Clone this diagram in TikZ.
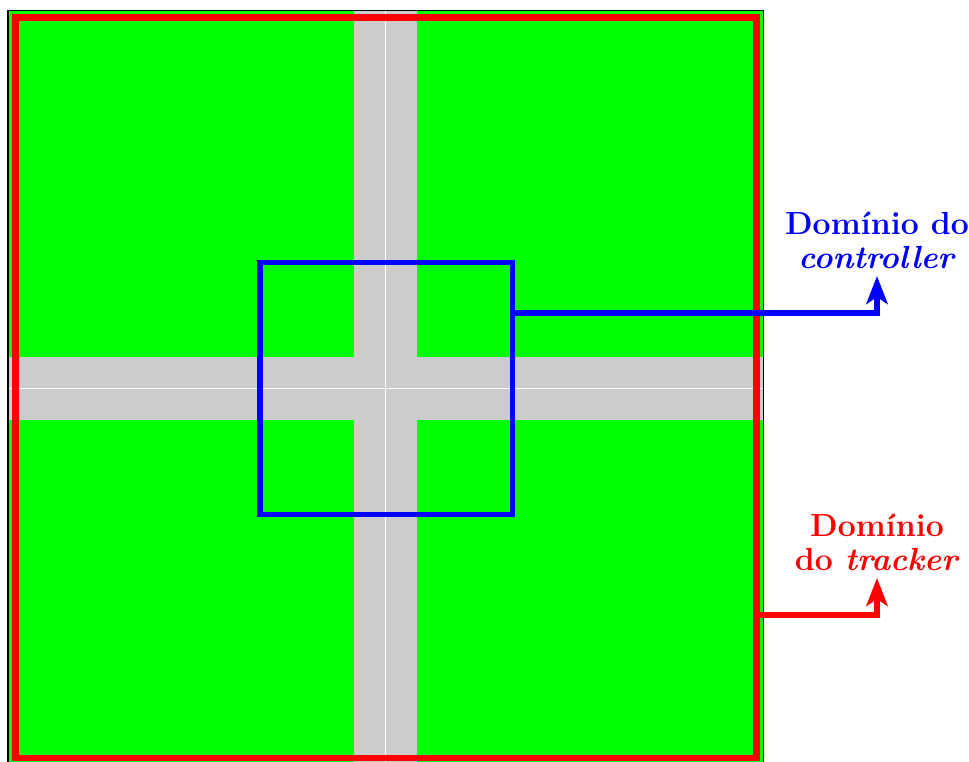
\documentclass[tikz,border=0pt]{standalone}
\usetikzlibrary{arrows.meta}
\begin{document}
\begin{tikzpicture}[x=0.375pt, y=-0.375pt, >={Stealth[length=10.5pt, width=8pt, inset=2.6pt]},
    rotulo/.style={align=center, inner ysep=2.4pt, anchor=south,
        font=\fontsize{12}{12.75}\selectfont\bfseries}]
    \useasboundingbox (0,0) rectangle (969,762);

    % 1. Quadrado verde (mapa)
    \fill[green] (8,10.5) rectangle (763.5,766);

    % 2. Ruas cinzentas e linhas centrais
    \fill[gray!40] (354,10.5) rectangle (417,766);
    \fill[gray!40] (8,357) rectangle (763.5,420);
    \draw[white, line width=0.5pt] (385.5,10.5) -- (385.5,766);
    \draw[white, line width=0.5pt] (8,388.5) -- (763.5,388.5);
    \draw[black, line width=0.4pt] (8,10.5) rectangle (763.5,766);

    % 3. Dominio do tracker (vermelho)
    \draw[red, line width=2.6pt] (15.5,17.5) rectangle (756.5,758);
    \coordinate (saidaT) at (756.5,615);
    \node[rotulo, red] (rotT) at (877,578) {Domínio\\do \textit{tracker}};
    \draw[->, red, line width=2.4pt] (saidaT) -| (rotT.south);

    % 4. Dominio do controller (azul)
    \draw[blue, line width=2.2pt] (260,262.5) rectangle (512.5,514.5);
    \coordinate (saidaC) at (512.5,313);
    \node[rotulo, blue] (rotC) at (877,276) {Domínio do\\\textit{controller}};
    \draw[->, blue, line width=2.4pt] (saidaC) -| (rotC.south);
\end{tikzpicture}
\end{document}
